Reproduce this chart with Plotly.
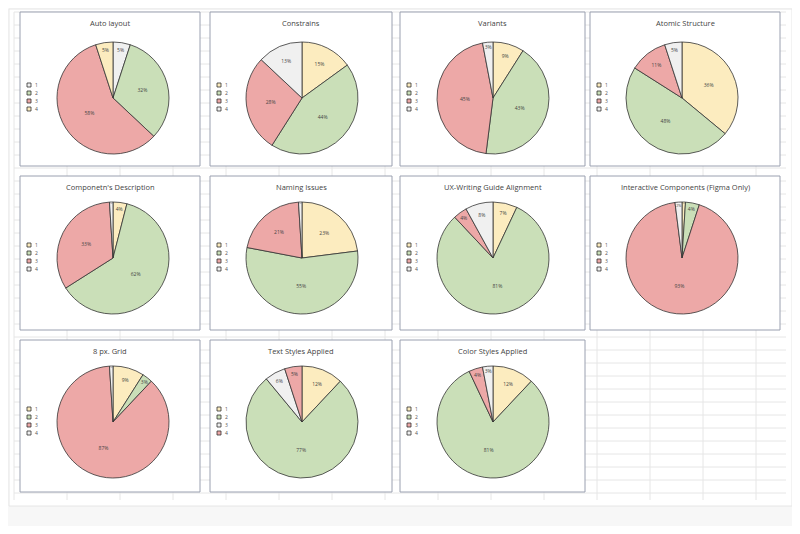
import plotly.graph_objects as go

# =====================================================
# DATA
# =====================================================
TITLES = [
    "Auto layout", "Constrains", "Variants", "Atomic Structure",
    "Componetn's Description", "Naming Issues", "UX-Writing Guide Alignment",
    "Interactive Components (Figma Only)",
    "8 px. Grid", "Text Styles Applied", "Color Styles Applied",
]
LEGEND_LABELS = ["1", "2", "3", "4"]

# percent values per chart, in legend order 1..4
auto_layout = [5, 32, 58, 5]
constrains = [15, 44, 28, 13]
variants = [9, 43, 45, 3]
atomic_structure = [36, 48, 11, 5]
description = [4, 62, 33, 1]
naming_issues = [23, 55, 21, 1]
ux_writing = [7, 81, 4, 8]
interactive = [1, 4, 93, 2]
grid_8px = [9, 3, 87, 1]
text_styles = [12, 77, 6, 5]
color_styles = [12, 81, 4, 3]

VALUES = [auto_layout, constrains, variants, atomic_structure, description,
          naming_issues, ux_writing, interactive, grid_8px, text_styles, color_styles]

# =====================================================
# HELPERS
# =====================================================
W, H = 784, 518  # page body keeps an 8 px margin in the 800x534 window
OFF = 8
YEL, GRN, RED, GRY = "#fcecbf", "#cadfb8", "#eda8a7", "#f0f0f0"


def colors_for(i):
    if i == 0:
        return [GRY, GRN, RED, YEL]  # first chart starts with the grey slice
    if i == 9:
        return [YEL, GRN, GRY, RED]
    return [YEL, GRN, RED, GRY]


def px_x(x):
    return (x - OFF) / W


def px_y(y):
    return 1 - (y - OFF) / H


def line(x0, y0, x1, y1):
    return dict(type="line", xref="paper", yref="paper", x0=px_x(x0), x1=px_x(x1),
                y0=px_y(y0), y1=px_y(y1), line=dict(color="#e6e6e6", width=1), layer="below")


# =====================================================
# FIGURE
# =====================================================
fig = go.Figure()

col_l = [20, 210, 400, 590]
col_r = [200, 392, 585, 780]
row_t = [12, 176, 340]
row_b = [166, 330, 492]
col_c = [113, 302, 493, 682]
row_c = [98, 258, 422]
R = 56

shapes = [
    dict(type="rect", xref="paper", yref="paper", x0=px_x(9), x1=px_x(792),
         y0=px_y(506), y1=px_y(9), fillcolor="white", line=dict(color="#e6e6e6", width=1),
         layer="below"),
]
# spreadsheet grid behind the charts
shapes += [line(x, 12, x, 500) for x in range(14, 787, 53)]
shapes += [line(14, y, 786, y) for y in range(12, 501, 13)]

annotations = []

for i, (title, vals) in enumerate(zip(TITLES, VALUES)):
    r, c = divmod(i, 4)
    cx, cy = col_c[c], row_c[r]
    cols = colors_for(i)
    fig.add_trace(go.Pie(
        labels=LEGEND_LABELS,
        values=vals,
        sort=False,
        direction="clockwise",
        rotation=0,
        textinfo="percent",
        textposition="inside",
        insidetextorientation="horizontal",
        textfont=dict(size=5, color="#444"),
        marker=dict(colors=cols, line=dict(color="#333", width=0.8)),
        domain=dict(x=[px_x(cx - R), px_x(cx + R)], y=[px_y(cy + R), px_y(cy - R)]),
        showlegend=False,
        hoverinfo="label+percent",
    ))
    # small legend on the left of each panel
    for k, (lab, col) in enumerate(zip(LEGEND_LABELS, cols)):
        ly = cy - 13 + k * 8
        lx = col_l[c] + 7
        shapes.append(dict(type="rect", xref="paper", yref="paper",
                           x0=px_x(lx), x1=px_x(lx + 4), y0=px_y(ly + 2), y1=px_y(ly - 2),
                           fillcolor=col, line=dict(color="#333", width=0.8), layer="above"))
        annotations.append(dict(text=lab, xref="paper", yref="paper", x=px_x(lx + 6), y=px_y(ly),
                                xanchor="left", yanchor="middle", showarrow=False,
                                font=dict(size=5, color="#555")))
    shapes.append(dict(type="rect", xref="paper", yref="paper",
                       x0=px_x(col_l[c]), x1=px_x(col_r[c]),
                       y0=px_y(row_b[r]), y1=px_y(row_t[r]),
                       fillcolor="white", line=dict(color="#9aa0b0", width=1),
                       layer="below"))
    annotations.append(dict(text=title, xref="paper", yref="paper",
                            x=px_x((col_l[c] + col_r[c]) / 2), y=px_y(row_t[r] + 11),
                            xanchor="center", yanchor="middle",
                            showarrow=False, font=dict(size=7.5, color="#444")))

fig.update_layout(
    width=W, height=H,
    margin=dict(l=0, r=0, t=0, b=0),
    paper_bgcolor="#f7f7f7",
    font=dict(family="Open Sans"),
    shapes=shapes,
    annotations=annotations,
)

fig.write_html("out.html")
